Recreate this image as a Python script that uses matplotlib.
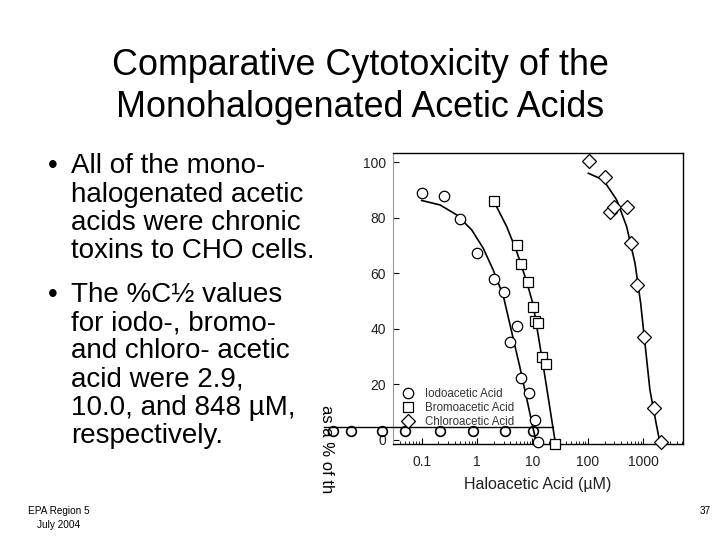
import numpy as np
import matplotlib.pyplot as plt

plt.rcParams['font.family'] = ['Liberation Sans', 'DejaVu Sans']

# Data
iodo_x = [0.1, 0.25, 0.5, 1.0, 2.0, 3.1, 5.2, 4.0, 6.2, 8.6, 10.9, 12.5]
iodo_y = [88.8, 87.9, 79.6, 67.2, 58.0, 53.4, 41.0, 35.2, 22.2, 16.8, 7.2, -0.6]
bromo_x = [2.0, 5.15, 6.1, 8.2, 10.3, 11.0, 12.6, 15.1, 17.8, 25.6]
bromo_y = [86.1, 70.2, 63.4, 56.7, 48.0, 42.9, 42.0, 29.8, 27.3, -1.4]
chloro_x = [105, 204, 247, 300, 515, 600, 770, 1040, 1580, 2100]
chloro_y = [100.5, 94.6, 82.2, 83.7, 83.7, 70.8, 55.6, 36.9, 11.4, -0.6]

# fitted curves
iodo_fit_x = [0.1, 0.214, 0.43, 0.80, 1.29, 1.95, 2.96, 5.9, 11.8]
iodo_fit_y = [86.2, 84.6, 81.0, 75.6, 69.0, 61.2, 52.0, 26.3, -1.4]
bromo_fit_x = [2.02, 3.42, 5.19, 7.85, 10.3, 15.7, 26.0]
bromo_fit_y = [85.8, 76.8, 67.8, 57.0, 48.6, 26.4, -1.4]
chloro_fit_x = [102, 190, 331, 500, 708, 895, 1070, 1315, 1700, 2000]
chloro_fit_y = [96.0, 93.6, 86.4, 76.8, 63.6, 49.2, 34.8, 18.0, 6.0, -1.1]

# garbled overlay left of the plot in the source slide
junk_x = [0.0025, 0.0054, 0.019, 0.050, 0.21, 0.84, 3.2, 10.2]
junk_y = [3.3, 3.3, 3.3, 3.3, 3.3, 3.3, 3.3, 3.3]
junk_line_x = [0.0017, 23.5]
junk_line_y = [4.6, 4.6]

xticks = [0.1, 1, 10, 100, 1000]
xticklabels = ['0.1', '1', '10', '100', '1000']
yticks = [0, 20, 40, 60, 80, 100]

title_lines = ['Comparative Cytotoxicity of the', 'Monohalogenated Acetic Acids']
bullet1 = ['All of the mono-', 'halogenated acetic', 'acids were chronic', 'toxins to CHO cells.']
bullet2 = ['The %C\u00bd values', 'for iodo-, bromo-', 'and chloro- acetic',
           'acid were 2.9,', '10.0, and 848 \u00b5M,', 'respectively.']

fig = plt.figure(figsize=(7.2, 5.4), dpi=100)

# slide text
fig.text(0.5, 1 - 75 / 540, title_lines[0], ha='center', va='baseline', fontsize=25.8)
fig.text(0.5, 1 - 116.7 / 540, title_lines[1], ha='center', va='baseline', fontsize=25.8)

y0 = 173.3
for i, line in enumerate(bullet1):
    fig.text(71 / 720, 1 - (y0 + i * 28.3) / 540, line, ha='left', va='baseline', fontsize=20)
fig.text(48 / 720, 1 - y0 / 540, '\u2022', ha='left', va='baseline', fontsize=20)
y1 = 301.7
for i, line in enumerate(bullet2):
    fig.text(71 / 720, 1 - (y1 + i * 28.3) / 540, line, ha='left', va='baseline', fontsize=20)
fig.text(48 / 720, 1 - y1 / 540, '\u2022', ha='left', va='baseline', fontsize=20)

fig.text(59 / 720, 1 - 511 / 540, 'EPA Region 5', ha='center', va='center', fontsize=7.2)
fig.text(59 / 720, 1 - 524.5 / 540, 'July 2004', ha='center', va='center', fontsize=7.2)
fig.text(711 / 720, 1 - 511 / 540, '37', ha='right', va='center', fontsize=7.2)

# chart
ax = fig.add_axes([392.7 / 720, 1 - 444 / 540, 290.3 / 720, 291 / 540])
ax.set_xscale('log')
ax.set_xlim(0.030, 5200)
ax.set_ylim(-1.5, 103.3)

ax.plot(iodo_fit_x, iodo_fit_y, color='black', lw=1.2)
ax.plot(bromo_fit_x, bromo_fit_y, color='black', lw=1.2)
ax.plot(chloro_fit_x, chloro_fit_y, color='black', lw=1.2)

ax.plot(iodo_x, iodo_y, 'o', ms=7.5, mfc='white', mec='black', mew=0.9,
        label='Iodoacetic Acid', clip_on=False, zorder=3)
ax.plot(bromo_x, bromo_y, 's', ms=7, mfc='white', mec='black', mew=0.9,
        label='Bromoacetic Acid', clip_on=False, zorder=3)
ax.plot(chloro_x, chloro_y, 'D', ms=7, mfc='white', mec='black', mew=0.9,
        label='Chloroacetic Acid', clip_on=False, zorder=3)

# overlay artefact
ax.plot(junk_line_x, junk_line_y, color='black', lw=1, clip_on=False, zorder=4)
ax.plot(junk_x, junk_y, 'o', ms=7, mfc='none', mec='black', mew=1.2, clip_on=False, zorder=4)
fig.text(326 / 720, 1 - 405 / 540, 'as a % of th', rotation=-90, ha='center', va='top', fontsize=12)

ax.legend(loc='lower left', bbox_to_anchor=(0.0, 0.028), frameon=False, fontsize=8.3,
          handletextpad=0.9, labelspacing=0.15, borderaxespad=0.3, handlelength=1.2,
          labelcolor='#333333')

ax.set_xticks(xticks)
ax.set_xticklabels(xticklabels)
ax.set_yticks(yticks)
ax.tick_params(axis='both', which='both', direction='in', labelsize=10, labelcolor='#222222')
ax.tick_params(axis='both', which='major', length=4)
ax.tick_params(axis='x', which='minor', length=2.5)
ax.tick_params(axis='y', pad=5)
ax.tick_params(axis='x', pad=8)
ax.set_xlabel('Haloacetic Acid (\u00b5M)', fontsize=11.5, color='#222222', labelpad=6)
for s in ['top', 'right', 'bottom']:
    ax.spines[s].set_linewidth(1.0)
ax.spines['left'].set_color('#999999')

fig.savefig('out.png', dpi=100)
